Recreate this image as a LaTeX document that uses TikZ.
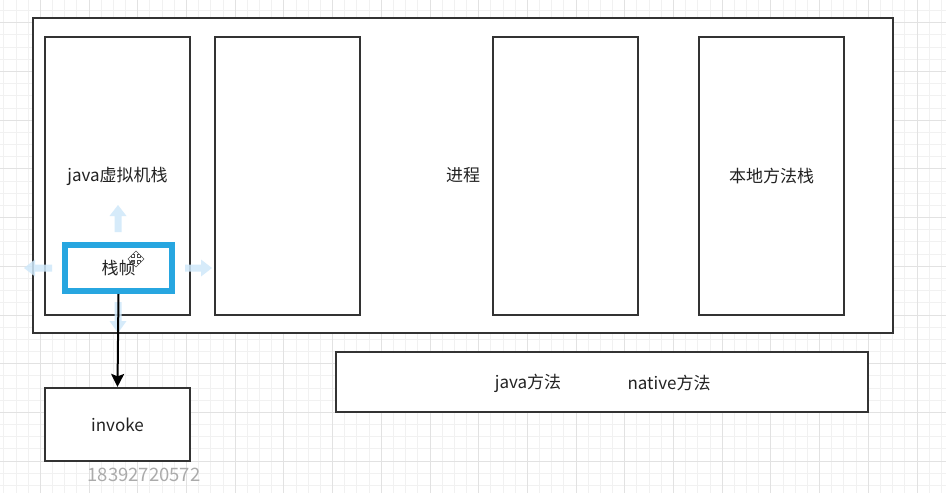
\documentclass[tikz,border=0pt]{standalone}
\usepackage{fontspec}
\setmainfont{Noto Sans CJK SC}
\usetikzlibrary{arrows.meta}
\definecolor{gridminor}{HTML}{F1F1F1}
\definecolor{gridmajor}{HTML}{E2E2E2}
\definecolor{boxline}{HTML}{333333}
\definecolor{selblue}{HTML}{27A6E0}
\definecolor{hoverblue}{HTML}{CFE8FA}
\definecolor{wmgrey}{HTML}{ABABAB}
\definecolor{txt}{HTML}{222222}
\begin{document}
\begin{tikzpicture}[x=1pt,y=-1pt,
  lbl/.style={font=\fontsize{17}{20}\selectfont,text=txt},
  box/.style={draw=boxline,line width=2.2pt,fill=white,lbl,inner sep=0pt},
  hover/.style={fill=hoverblue,fill opacity=0.85},
  conn/.style={draw=black,line width=2pt,-{Stealth[length=13pt,width=13pt,inset=2.5pt]}}]
\useasboundingbox (0,0) rectangle (946,493);
\fill[white] (0,0) rectangle (946,493);
% grid
\foreach \i in {-3,...,76} \draw[gridminor,line width=1pt] ({917-12.175*\i},0) -- ++(0,493);
\foreach \j in {-15,...,26} \draw[gridminor,line width=1pt] (0,{315-12.175*\j}) -- ++(946,0);
\foreach \i in {-1,...,19} \draw[gridmajor,line width=1pt] ({917-48.7*\i},0) -- ++(0,493);
\foreach \j in {-4,...,6} \draw[gridmajor,line width=1pt] (0,{315-48.7*\j}) -- ++(946,0);
% boxes
\node[box,minimum width=860pt,minimum height=315pt] (outer) at (463,175.5) {进程};
\node[box,minimum width=145pt,minimum height=278pt] (jvm) at (117.5,176) {java虚拟机栈};
\node[box,minimum width=145pt,minimum height=278pt] (b2) at (287.5,176) {};
\node[box,minimum width=145pt,minimum height=278pt] (b3) at (565.5,176) {};
\node[box,minimum width=145pt,minimum height=278pt] (native) at (771.5,176) {本地方法栈};
\node[box,minimum width=532pt,minimum height=60pt] (methods) at (602,382) {};
\node[lbl] (jm) at (528,383) {java方法};
\node[lbl] (nm) at (669,383) {native方法};
\node[box,minimum width=145pt,minimum height=73pt] (invoke) at (117.5,424.5) {invoke};
% hover arrows
\fill[hover] (118,205) -- (126.5,216) -- (121.5,216) -- (121.5,232) -- (114.5,232) -- (114.5,216) -- (109.5,216) -- cycle;
\fill[hover] (24,268) -- (35,259.5) -- (35,264.5) -- (52,264.5) -- (52,271.5) -- (35,271.5) -- (35,276.5) -- cycle;
\fill[hover] (212,268) -- (201,259.5) -- (201,264.5) -- (185,264.5) -- (185,271.5) -- (201,271.5) -- (201,276.5) -- cycle;
\fill[hover] (118,333) -- (126.5,321) -- (121.5,321) -- (121.5,302) -- (114.5,302) -- (114.5,321) -- (109.5,321) -- cycle;
% selected frame
\node[draw=selblue,line width=6pt,fill=white,minimum width=107pt,minimum height=46pt,lbl] (frame) at (118.5,268) {栈帧};
% move cursor
\filldraw[fill=white,draw=black!70,line width=0.6pt,shift={(136,259)}]
 (0,-8) -- (3.5,-4.5) -- (1.5,-4.5) -- (1.5,-1.5) -- (4.5,-1.5) -- (4.5,-3.5) -- (8,0) -- (4.5,3.5) -- (4.5,1.5) -- (1.5,1.5) -- (1.5,4.5) -- (3.5,4.5) -- (0,8) -- (-3.5,4.5) -- (-1.5,4.5) -- (-1.5,1.5) -- (-4.5,1.5) -- (-4.5,3.5) -- (-8,0) -- (-4.5,-3.5) -- (-4.5,-1.5) -- (-1.5,-1.5) -- (-1.5,-4.5) -- (-3.5,-4.5) -- cycle;
% connector
\draw[conn] (frame.south) -- (invoke.north);
% watermark
\node[font=\fontsize{18.5}{22}\selectfont,text=wmgrey] (wm) at (144,475) {18392720572};
\end{tikzpicture}
\end{document}
